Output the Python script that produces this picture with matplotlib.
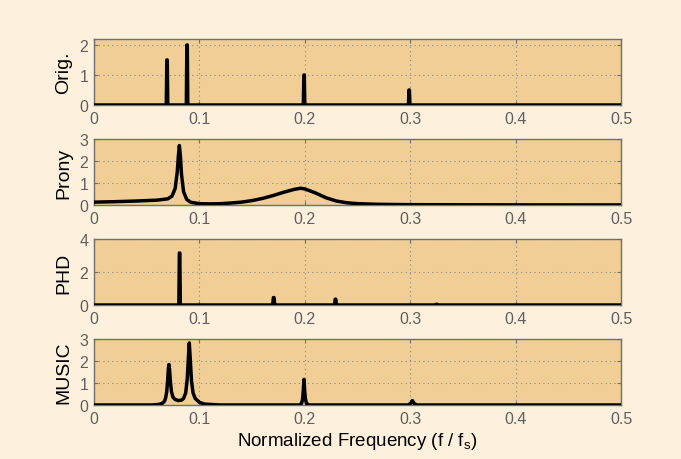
import matplotlib
matplotlib.use("Agg")
import matplotlib.pyplot as plt

plt.rcParams['font.family'] = ['Liberation Sans', 'DejaVu Sans']
plt.rcParams['mathtext.default'] = 'regular'

# ---- data ----
orig_f = [0, 0.0686, 0.0691, 0.0695, 0.0700, 0.0876, 0.0881, 0.0885, 0.0890,
          0.1986, 0.1991, 0.1995, 0.2000, 0.2983, 0.2988, 0.2992, 0.2997, 0.5]
orig_y = [0, 0, 1.5, 1.5, 0, 0, 2.0, 2.0, 0, 0, 1.0, 1.0, 0, 0, 0.5, 0.5, 0, 0]

prony_f = [0, 0.02, 0.04, 0.06, 0.07, 0.074, 0.077, 0.079, 0.080, 0.081, 0.082,
           0.083, 0.085, 0.088, 0.092, 0.1, 0.11, 0.12, 0.13, 0.14, 0.15, 0.16,
           0.17, 0.18, 0.19, 0.196, 0.2, 0.21, 0.22, 0.23, 0.24, 0.25, 0.27,
           0.3, 0.35, 0.4, 0.5]
prony_y = [0.13, 0.15, 0.18, 0.22, 0.28, 0.40, 0.75, 1.5, 2.2, 2.7, 2.2,
           1.4, 0.6, 0.25, 0.12, 0.06, 0.05, 0.06, 0.09, 0.13, 0.2, 0.3,
           0.43, 0.58, 0.71, 0.76, 0.73, 0.55, 0.33, 0.18, 0.1, 0.06, 0.03,
           0.015, 0.01, 0.005, 0.003]

phd_f = [0, 0.0805, 0.0810, 0.0814, 0.0819, 0.1695, 0.1702, 0.1708, 0.1715,
         0.2282, 0.2288, 0.2294, 0.2300, 0.3245, 0.3250, 0.3255, 0.5]
phd_y = [0, 0, 3.15, 3.15, 0, 0, 0.45, 0.45, 0, 0, 0.35, 0.35, 0, 0, 0.05, 0, 0]

music_f = [0, 0.055, 0.062, 0.065, 0.067, 0.068, 0.069, 0.070, 0.0705, 0.0711,
           0.0717, 0.0725, 0.0735, 0.075, 0.077, 0.080, 0.083, 0.085, 0.087,
           0.0885, 0.0895, 0.0904, 0.0913, 0.0925, 0.094, 0.096, 0.1, 0.105,
           0.12, 0.195, 0.197, 0.198, 0.1986, 0.1992, 0.1998, 0.2005, 0.2015,
           0.204, 0.298, 0.3005, 0.3015, 0.302, 0.3025, 0.3035, 0.306, 0.5]
music_y = [0, 0.0, 0.03, 0.08, 0.18, 0.33, 0.6, 1.2, 1.6, 1.84,
           1.6, 1.05, 0.6, 0.35, 0.25, 0.2, 0.22, 0.3, 0.55,
           1.2, 2.1, 2.82, 2.1, 1.1, 0.55, 0.3, 0.12, 0.04,
           0.0, 0.0, 0.08, 0.3, 0.7, 1.16, 0.7, 0.3, 0.08,
           0.0, 0.0, 0.08, 0.16, 0.2, 0.16, 0.08, 0.0, 0]

panel_names = ['Orig.', 'Prony', 'PHD', 'MUSIC']
panel_ylims = [2.2, 3, 4, 3]
panel_yticks = [[0, 1, 2], [0, 1, 2, 3], [0, 2, 4], [0, 1, 2, 3]]
x_ticks = [0, 0.1, 0.2, 0.3, 0.4, 0.5]
x_ticklabels = ['0', '0.1', '0.2', '0.3', '0.4', '0.5']
xlabel = 'Normalized Frequency (f / f$_s$)'

series = [(orig_f, orig_y), (prony_f, prony_y), (phd_f, phd_y), (music_f, music_y)]

fig_bg = '#FDF1DE'
ax_bg = '#F0CE96'
spine_c = '#707070'
tick_c = '#606060'

fig = plt.figure(figsize=(6.81, 4.6), dpi=100, facecolor=fig_bg)
bottoms = [0.7696, 0.5522, 0.3348, 0.1174]
for i, (name, (fx, fy)) in enumerate(zip(panel_names, series)):
    ax = fig.add_axes([0.138, bottoms[i], 0.774, 0.1435])
    ax.set_facecolor(ax_bg)
    ax.plot(fx, fy, color='black', lw=2.5, solid_joinstyle='round', zorder=3)
    ax.set_xlim(0, 0.5)
    ax.set_ylim(0, panel_ylims[i])
    ax.set_xticks(x_ticks)
    ax.set_xticklabels(x_ticklabels)
    ax.set_yticks(panel_yticks[i])
    ax.grid(True, color='#8a8a8a', linestyle=(0, (1, 3)), lw=0.8)
    ax.tick_params(direction='in', top=True, right=True, length=3,
                   color=spine_c, labelcolor=tick_c, labelsize=11.5, pad=4)
    for s in ax.spines.values():
        s.set_color(spine_c)
        s.set_linewidth(1.0)
    ax.set_ylabel(name, fontsize=14, color='black', labelpad=5)
    if i == 3:
        ax.set_xlabel(xlabel, fontsize=13.5, color='black', labelpad=3)

fig.savefig('out.png', dpi=100, facecolor=fig_bg)
